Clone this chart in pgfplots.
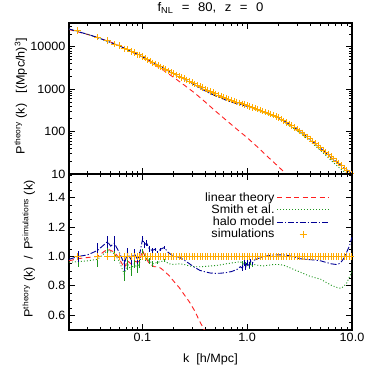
\documentclass[border=0pt]{standalone}
\usepackage{fontspec}
\setmainfont{Liberation Sans}[FakeStretch=1.05]
\usepackage{pgfplots}
\pgfplotsset{compat=1.18}
\usepackage{pgfplotstable}

\definecolor{cLin}{RGB}{255,30,30}
\definecolor{cSmi}{RGB}{30,150,30}
\definecolor{cHal}{RGB}{0,0,150}
\definecolor{cSim}{RGB}{255,170,0}

% P(k) curves, top panel
\pgfplotstableread{
k P S H
0.0200 26400 26400 26400
0.0251 22400 22400 22400
0.0316 19050 19050 19050
0.0398 15670 15670 15670
0.0501 12590 12590 12590
0.0631 10000 10000 10000
0.0794 7670 7670 7670
0.1000 5820 5820 5820
0.1259 4217 4150 4300
0.1585 3126 3050 3200
0.1995 2344 2250 2344
0.2512 1778 1690 1740
0.3162 1349 1260 1260
0.3981 1012 940 910
0.5012 776 725 690
0.6310 617 585 550
0.7943 501 480 455
1.0000 412 395 395
1.2589 339 320 332
1.5849 275 258 275
1.9953 214 202 216
2.5119 151 141 150
3.1623 105 96 103
3.9811 67.6 59 66
5.0119 41.7 36 40.5
6.3096 25.7 21 24.5
7.9433 15.8 12.6 15.5
10.000 9.1 8.2 10.2
}\pk

\pgfplotstableread{
k P
0.0200 25600
0.0251 22100
0.0316 18900
0.0398 15670
0.0501 12900
0.0631 10200
0.0794 7550
0.1000 5820
0.1259 4000
0.1585 2800
0.1995 1900
0.2512 1250
0.3162 813
0.3981 500
0.5012 302
0.6310 186
0.7943 115
1.0000 72
1.2589 43
1.5849 25
1.9953 14.8
2.5119 8.5
}\plin

% simulation bins
\pgfplotstableread{
k P r
0.0241 24500 1
0.0373 17000 1
0.0466 14000 1
0.0540 11500 1
0.0600 10800 1
0.0673 9000 1
0.0723 8800 1
0.0780 7700 1
0.0838 7350 1
0.0900 6500 1
0.0936 6450 1
0.1007 5950 1
0.1059 5370 1
0.1122 4955 1
0.1189 4570 1
0.1259 4217 1
0.1334 3913 1
0.1413 3631 1
0.1496 3370 1
0.1585 3126 1
0.1679 2910 1
0.1778 2707 1
0.1884 2519 1
0.1995 2344 1
0.2113 2188 1
0.2239 2042 1
0.2371 1905 1
0.2512 1778 1
0.2661 1660 1
0.2818 1549 1
0.2985 1445 1
0.3162 1349 1
0.3350 1256 1
0.3548 1168 1
0.3758 1087 1
0.3981 1012 1
0.4217 947 1
0.4467 886 1
0.4732 830 1
0.5012 776 1
0.5309 733 1
0.5623 692 1
0.5957 653 1
0.6310 617 1
0.6683 586 1
0.7079 556 1
0.7499 528 1
0.7943 501 1
0.8414 477 1
0.8913 454 1
0.9441 433 1
1.0000 412 1
1.0593 393 1
1.1220 374 1
1.1885 356 1
1.2589 339 1
1.3335 322 1
1.4125 305 1
1.4962 290 1
1.5849 275 1
1.6788 258 1
1.7783 243 1
1.8836 228 1
1.9953 214 1
2.1135 196 1
2.2387 180 1
2.3714 165 1
2.5119 151 1
2.6607 138 1
2.8184 126 1
2.9854 115 1
3.1623 105 1
3.3497 93.9 1
3.5481 84.1 1
3.7584 75.4 1
3.9811 67.6 1
4.2170 59.9 1
4.4668 53.1 1
4.7315 47.0 1
5.0119 41.7 1
5.3088 36.9 1
5.6234 32.7 1
5.9566 29.0 1
6.3096 25.7 1
6.6834 22.8 1
7.0795 20.2 1
7.4989 17.9 1
7.9433 15.8 1
8.4140 13.8 1
8.9125 12.0 1
9.4406 10.5 1
9.8000 10.1 1
}\psim

% ratios, bottom panel
\pgfplotstableread{
k r
0.0200 0.97
0.0245 0.985
0.0373 1.00
0.0466 1.05
0.0540 1.03
0.0600 0.99
0.0673 0.92
0.0723 0.97
0.0780 0.95
0.0838 0.97
0.0900 0.96
0.0936 0.97
0.1007 1.04
0.1080 0.99
0.1170 0.95
0.1300 0.93
0.1400 0.93
0.1500 0.92
0.1620 0.90
0.1800 0.87
0.2000 0.83
0.2240 0.79
0.2512 0.74
0.2818 0.69
0.3162 0.63
0.3548 0.555
0.3981 0.49
0.4200 0.46
}\rlin

\pgfplotstableread{
k r e
0.0200 0.96 0
0.0245 0.965 0.04
0.0300 0.97 0
0.0373 0.98 0.05
0.0466 1.04 0.04
0.0540 1.02 0.05
0.0600 0.97 0
0.0673 0.88 0.05
0.0723 0.95 0.04
0.0780 0.91 0.04
0.0838 0.95 0.03
0.0900 0.92 0.03
0.0936 0.95 0.03
0.1007 1.03 0.02
0.1080 0.99 0.02
0.1170 0.97 0.02
0.1250 0.95 0.02
0.1400 0.96 0.01
0.1620 0.97 0.01
0.1800 0.95 0
0.2000 0.945 0
0.2240 0.95 0
0.2512 0.945 0
0.2818 0.935 0
0.3162 0.93 0
0.3548 0.93 0
0.3981 0.932 0
0.4467 0.935 0
0.5012 0.938 0
0.5623 0.943 0
0.6310 0.95 0
0.7079 0.955 0
0.7943 0.96 0
0.8600 0.965 0
0.9000 0.95 0.02
0.9400 0.97 0.02
0.9700 0.94 0.02
1.0000 0.955 0.02
1.0400 0.935 0.02
1.0800 0.95 0.01
1.1200 0.94 0.01
1.1700 0.945 0
1.2589 0.94 0
1.4125 0.935 0
1.5849 0.94 0
1.7783 0.945 0
1.9953 0.945 0
2.2387 0.94 0
2.5119 0.925 0
2.8184 0.91 0
3.1623 0.895 0
3.5481 0.88 0
3.9811 0.865 0
4.4668 0.855 0
5.0119 0.845 0
5.6234 0.825 0
6.3096 0.805 0
7.0795 0.79 0
7.5000 0.785 0
7.9433 0.785 0
8.4140 0.80 0
8.9125 0.82 0
9.4406 0.86 0
10.000 0.90 0
}\rsmith

\pgfplotstableread{
k r e
0.0200 0.98 0
0.0245 1.00 0.04
0.0300 1.01 0
0.0373 1.04 0.05
0.0466 1.10 0.04
0.0500 1.07 0
0.0540 1.09 0.05
0.0600 1.03 0
0.0673 0.95 0.05
0.0723 1.02 0.04
0.0780 0.98 0.04
0.0838 1.02 0.03
0.0900 0.98 0.03
0.0936 1.00 0.03
0.1007 1.12 0.02
0.1050 1.08 0.02
0.1100 1.09 0.02
0.1170 1.05 0.02
0.1250 1.04 0.02
0.1330 1.05 0.01
0.1400 1.03 0.01
0.1500 1.05 0.01
0.1620 1.06 0.01
0.1750 1.03 0
0.1900 1.01 0
0.2000 1.00 0
0.2240 0.995 0
0.2512 0.975 0
0.2818 0.95 0
0.3162 0.925 0
0.3548 0.905 0
0.3981 0.895 0
0.4467 0.887 0
0.5012 0.885 0
0.5623 0.886 0
0.6310 0.89 0
0.7079 0.897 0
0.7943 0.91 0
0.8600 0.93 0
0.9000 0.92 0.02
0.9400 0.955 0.02
0.9700 0.93 0.02
1.0000 0.965 0.02
1.0400 0.94 0.02
1.0800 0.97 0.01
1.1200 0.955 0.01
1.1700 0.975 0
1.2589 0.985 0
1.4125 0.995 0
1.5849 1.005 0
1.7783 1.01 0
1.9953 1.01 0
2.2387 1.01 0
2.5119 1.005 0
2.8184 0.995 0
3.1623 0.985 0
3.5481 0.98 0
3.9811 0.978 0
4.4668 0.975 0
5.0119 0.97 0
5.6234 0.96 0
6.3096 0.95 0
7.0795 0.945 0
7.5000 0.95 0
7.9433 0.965 0
8.4140 0.99 0
8.9125 1.03 0
9.4406 1.07 0
10.000 1.13 0
}\rhalo

\newcommand{\lbl}{\fontsize{12}{14}\selectfont}
\newcommand{\ttl}{\fontsize{12.5}{14}\selectfont}
\newcommand{\gap}{\hspace{8.5pt}}

\tikzset{
  linstyle/.style={color=cLin, line width=0.9pt, dash pattern=on 5pt off 3.5pt},
  smistyle/.style={color=cSmi, line width=0.9pt, dash pattern=on 1pt off 2pt},
  halstyle/.style={color=cHal, line width=0.9pt, dash pattern=on 6pt off 2pt on 1.2pt off 2pt},
}
\pgfplotsset{
  simstyle/.style={color=cSim, only marks, mark=+, mark size=3.2pt, line width=0.8pt},
}

\begin{document}
\begin{tikzpicture}
\path[use as bounding box] (0,0) rectangle (374pt,374pt);

\begin{axis}[at={(69pt,200pt)}, anchor=south west,
  scale only axis, width=283pt, height=151pt,
  xmode=log, ymode=log, xmin=0.02, xmax=10, ymin=10, ymax=36500,
  xtick={0.1,1,10}, xticklabels={},
  minor xtick={0.02,0.03,0.04,0.05,0.06,0.07,0.08,0.09,0.2,0.3,0.4,0.5,0.6,0.7,0.8,0.9,2,3,4,5,6,7,8,9},
  ytick={10,100,1000,10000}, yticklabels={10,100,1000,10000},
  minor ytick={20,30,40,50,60,70,80,90,200,300,400,500,600,700,800,900,2000,3000,4000,5000,6000,7000,8000,9000,20000,30000},
  axis line style={line width=1.3pt},
  tick style={line width=0.8pt, black},
  major tick length=6pt, minor tick length=3pt,
  tick label style={font=\lbl},
  /pgf/number format/assume math mode=true,
  title={f\textsubscript{NL}\gap=\gap80,\gap z\gap=\gap0},
  title style={font=\ttl, at={(axis description cs:0.5,1.06)}, anchor=center},
  ylabel={P\textsuperscript{theory} (k)\ \ \ [(Mpc/h)\textsuperscript{3}]},
  ylabel style={font=\lbl, at={(axis description cs:-0.17,0.515)}, anchor=center},
]
\addplot[simstyle] table[x=k, y=P] {\psim};
\addplot[linstyle] table[x=k, y=P] {\plin};
\addplot[smistyle] table[x=k, y=S] {\pk};
\addplot[halstyle] table[x=k, y=H] {\pk};
\end{axis}

\begin{axis}[at={(69pt,44pt)}, anchor=south west,
  scale only axis, width=283pt, height=156pt,
  xmode=log, xmin=0.02, xmax=10, ymin=0.5, ymax=1.56,
  xtick={0.1,1,10}, xticklabels={0.1,1.0,10.0},
  minor xtick={0.02,0.03,0.04,0.05,0.06,0.07,0.08,0.09,0.2,0.3,0.4,0.5,0.6,0.7,0.8,0.9,2,3,4,5,6,7,8,9},
  ytick={0.6,0.8,1.0,1.2,1.4}, yticklabels={0.6,0.8,1.0,1.2,1.4},
  minor ytick={0.55,0.65,0.7,0.75,0.85,0.9,0.95,1.05,1.1,1.15,1.25,1.3,1.35,1.45,1.5,1.55},
  axis line style={line width=1.3pt},
  tick style={line width=0.8pt, black},
  major tick length=6pt, minor tick length=3pt,
  tick label style={font=\lbl},
  /pgf/number format/assume math mode=true,
  xlabel={k\ \ [h/Mpc]},
  xlabel style={font=\lbl, at={(axis description cs:0.5,-0.19)}, anchor=center},
  ylabel={P\textsuperscript{theory} (k)\ \ /\ \ P\textsuperscript{simulations} (k)},
  ylabel style={font=\lbl, at={(axis description cs:-0.142,0.52)}, anchor=center},
  legend style={draw=none, fill=none, at={(rel axis cs:0.922,0.895)}, anchor=north east,
    font=\lbl, row sep=-2pt, inner sep=0pt,
    /tikz/every even column/.append style={column sep=5pt}},
  legend cell align=right, legend plot pos=right,
]
\addplot[linstyle, legend image code/.code={\draw[draw=cLin, line width=1.2pt, dash pattern=on 5pt off 3.5pt] (0pt,0pt) -- (52pt,0pt);}] table[x=k, y=r] {\rlin};
\addlegendentry{linear theory}
\addplot[smistyle, legend image code/.code={\draw[draw=cSmi, line width=1.1pt, dash pattern=on 1pt off 2pt] (0pt,0pt) -- (52pt,0pt);},
  error bars/.cd, y dir=both, y explicit, error mark=none, error bar style={solid, line width=0.8pt}]
  table[x=k, y=r, y error=e] {\rsmith};
\addlegendentry{Smith et al.}
\addplot[halstyle, legend image code/.code={\draw[draw=cHal, line width=1.1pt, dash pattern=on 6pt off 2pt on 1.2pt off 2pt] (0pt,0pt) -- (52pt,0pt);},
  error bars/.cd, y dir=both, y explicit, error mark=none, error bar style={solid, line width=0.8pt}]
  table[x=k, y=r, y error=e] {\rhalo};
\addlegendentry{halo model}
\addplot[simstyle, legend image code/.code={\draw[draw=cSim, line width=0.8pt, mark=+, mark size=3.5pt] plot coordinates {(26pt,0pt)};}] table[x=k, y=r] {\psim};
\addlegendentry{simulations}
\end{axis}
\end{tikzpicture}
\end{document}
